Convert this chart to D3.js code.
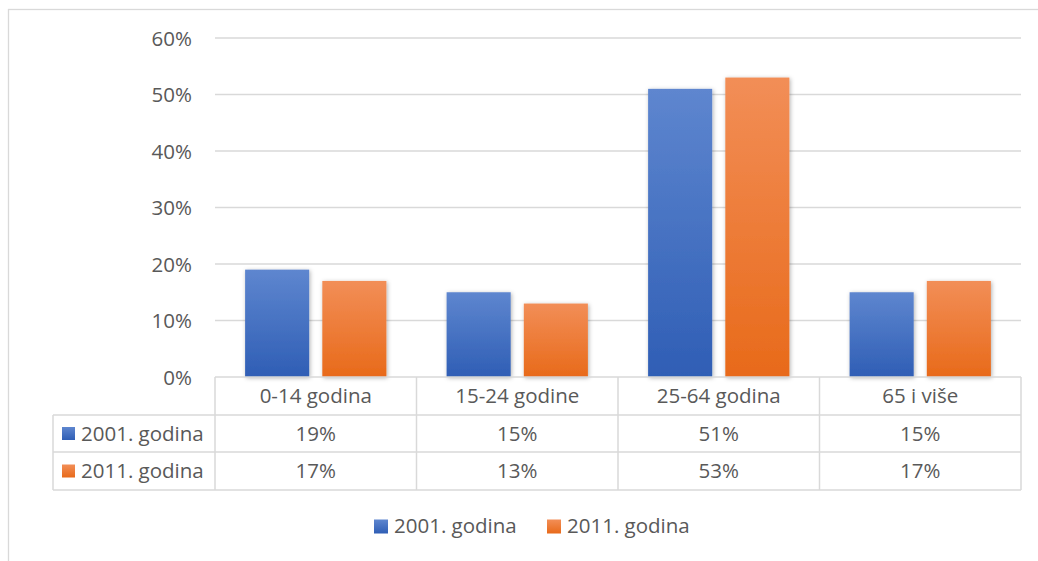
<!DOCTYPE html>
<html>
<head>
<meta charset="utf-8">
<script src="https://cdn.jsdelivr.net/npm/d3@7"></script>
<style>
  html, body { margin: 0; padding: 0; background: #fff; }
  svg { display: block; }
  text { font-family: "Open Sans", "Noto Sans", sans-serif; fill: #595959; }
</style>
</head>
<body>
<svg id="chart" width="1038" height="561"></svg>
<script>
const categories = ["0-14 godina", "15-24 godine", "25-64 godina", "65 i više"];
const seriesNames = ["2001. godina", "2011. godina"];
const values2001 = [0.19, 0.15, 0.51, 0.15];
const values2011 = [0.17, 0.13, 0.53, 0.17];
const yTicks = [0, 0.1, 0.2, 0.3, 0.4, 0.5, 0.6];

const seriesValues = [values2001, values2011];
const gradStops = [["#5e86cf", "#2f5eb5"], ["#f28e57", "#e86a1a"]];

const svg = d3.select("#chart");
const W = 1038, H = 561;
const plotL = 215, plotR = 1021, plotT = 38, plotB = 377;
const rowH = [377, 415, 452, 490];
const tableL = 53;
const gridColor = "#d9d9d9";
const fontSize = 20.5;

// outer border
svg.append("rect").attr("x", 8.5).attr("y", 9.5).attr("width", 1200).attr("height", 700)
  .attr("fill", "none").attr("stroke", gridColor).attr("stroke-width", 1.3);

const defs = svg.append("defs");
gradStops.forEach((s, i) => {
  const g = defs.append("linearGradient").attr("id", "grad" + i)
    .attr("x1", 0).attr("y1", 0).attr("x2", 0).attr("y2", 1);
  g.append("stop").attr("offset", "0%").attr("stop-color", s[0]);
  g.append("stop").attr("offset", "100%").attr("stop-color", s[1]);
});
const f = defs.append("filter").attr("id", "shadow").attr("x", "-20%").attr("y", "-20%").attr("width", "140%").attr("height", "140%");
f.append("feDropShadow").attr("dx", 1).attr("dy", 1).attr("stdDeviation", 2.2)
  .attr("flood-color", "#000").attr("flood-opacity", 0.3);

const x = d3.scaleBand().domain(categories).range([plotL, plotR]).padding(0);
const xs = d3.scaleBand().domain(seriesNames).range([0, x.bandwidth()])
  .paddingInner(0.17).paddingOuter(0.39);
const y = d3.scaleLinear().domain([0, 0.6]).range([plotB, plotT]);

// gridlines
svg.append("g").selectAll("line").data(yTicks.filter(d => d > 0)).join("line")
  .attr("x1", plotL).attr("x2", plotR)
  .attr("y1", d => y(d)).attr("y2", d => y(d))
  .attr("stroke", gridColor).attr("stroke-width", 1.5);

// y axis labels
const yAxis = d3.axisLeft(y).tickValues(yTicks).tickFormat(d3.format(".0%")).tickSize(0).tickPadding(0);
const ya = svg.append("g").attr("transform", `translate(192,0)`).call(yAxis);
ya.select(".domain").remove();
ya.selectAll("text").attr("font-size", fontSize).attr("fill", "#595959")
  .attr("font-family", "'Open Sans', sans-serif").attr("dy", "0.35em");

// bars
seriesNames.forEach((s, si) => {
  svg.append("g").selectAll("rect").data(categories).join("rect")
    .attr("x", c => x(c) + xs(s))
    .attr("width", xs.bandwidth())
    .attr("y", (c, i) => y(seriesValues[si][i]))
    .attr("height", (c, i) => plotB - y(seriesValues[si][i]))
    .attr("fill", `url(#grad${si})`)
    .attr("filter", "url(#shadow)");
});

// table lines
const tl = svg.append("g").attr("stroke", gridColor).attr("stroke-width", 1.5);
// horizontal lines
tl.append("line").attr("x1", plotL).attr("x2", plotR).attr("y1", rowH[0]).attr("y2", rowH[0]);
[rowH[1], rowH[2], rowH[3]].forEach(yy => {
  tl.append("line").attr("x1", tableL).attr("x2", plotR).attr("y1", yy).attr("y2", yy);
});
// vertical lines
const bounds = categories.map(c => x(c)).concat([plotR]);
bounds.forEach(xx => {
  tl.append("line").attr("x1", xx).attr("x2", xx).attr("y1", rowH[0]).attr("y2", rowH[3]);
});
tl.append("line").attr("x1", tableL).attr("x2", tableL).attr("y1", rowH[1]).attr("y2", rowH[3]);

// header text
svg.append("g").selectAll("text").data(categories).join("text")
  .attr("x", c => x(c) + x.bandwidth() / 2)
  .attr("y", (rowH[0] + rowH[1]) / 2)
  .attr("dy", "0.35em").attr("text-anchor", "middle").attr("font-size", fontSize)
  .text(c => c);

// table rows
const fmt = d3.format(".0%");
seriesNames.forEach((s, si) => {
  const cy = (rowH[si + 1] + rowH[si + 2]) / 2;
  svg.append("rect").attr("x", 62).attr("y", cy - 6.5).attr("width", 13).attr("height", 13)
    .attr("fill", `url(#grad${si})`);
  svg.append("text").attr("x", 81).attr("y", cy).attr("dy", "0.35em")
    .attr("font-size", fontSize).text(s);
  svg.append("g").selectAll("text").data(categories).join("text")
    .attr("x", c => x(c) + x.bandwidth() / 2)
    .attr("y", cy).attr("dy", "0.35em").attr("text-anchor", "middle")
    .attr("font-size", fontSize)
    .text((c, i) => fmt(seriesValues[si][i]));
});

// legend
const legendX = [374, 547];
const legendY = 526;
seriesNames.forEach((s, si) => {
  svg.append("rect").attr("x", legendX[si]).attr("y", legendY - 6.5).attr("width", 14).attr("height", 14)
    .attr("fill", `url(#grad${si})`);
  svg.append("text").attr("x", legendX[si] + 20).attr("y", legendY).attr("dy", "0.35em")
    .attr("font-size", fontSize).text(s);
});
</script>
</body>
</html>
